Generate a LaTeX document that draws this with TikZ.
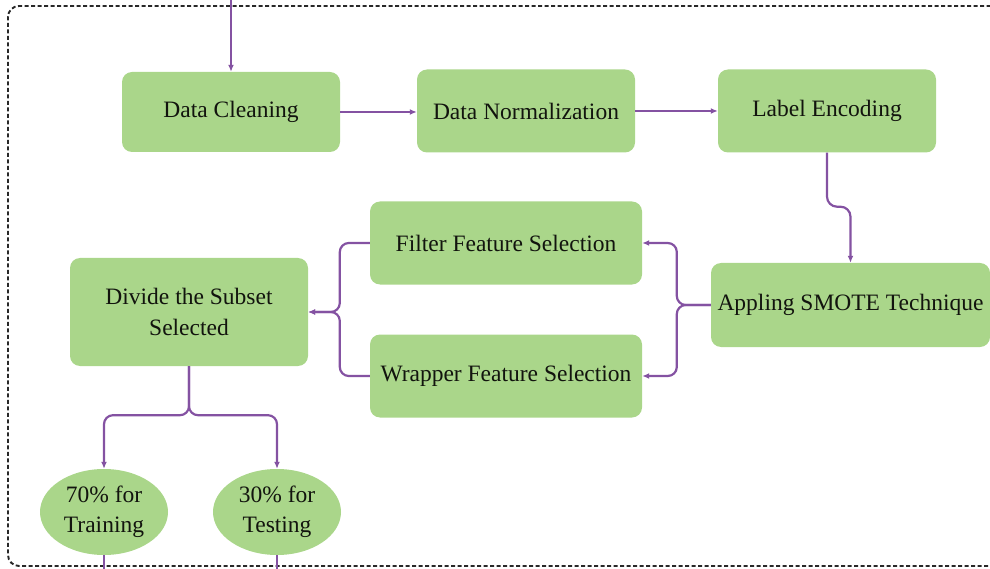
\documentclass[tikz,border=0pt]{standalone}
\usepackage{fontspec}
\setmainfont{Liberation Serif}
\usetikzlibrary{shapes.geometric,arrows.meta}
\definecolor{boxgreen}{RGB}{170,214,138}
\definecolor{flow}{RGB}{132,82,162}
\definecolor{ink}{RGB}{18,20,14}
\definecolor{frame}{RGB}{40,40,40}

\begin{document}
\begin{tikzpicture}[x=1pt,y=-1pt,
  card/.style={fill=boxgreen, draw=none, rounded corners=10pt, text=ink,
    align=center, inner sep=2pt, font=\fontsize{23.5}{31}\selectfont},
  oval/.style={ellipse, fill=boxgreen, draw=none, text=ink, align=center,
    inner sep=0pt, minimum width=128pt, minimum height=86pt,
    font=\fontsize{23.5}{30}\selectfont},
  link/.style={draw=flow, line width=2.2pt, -{Latex[length=7pt,width=6pt]}},
  tail/.style={draw=flow, line width=2.2pt},
  border/.style={draw=frame, line width=1.9pt, dash pattern=on 4pt off 2.5pt,
    rounded corners=11pt}]

\useasboundingbox (0,0) rectangle (990,569);
\clip (0,0) rectangle (990,569);

% dashed frame of the pre-processing stage
\draw[border] (1010,6) -- (8,6) -- (8,566) -- (1010,566);

% process steps
\node[card, minimum width=218pt, minimum height=80pt] (clean) at (231,112) {Data Cleaning};
\node[card, minimum width=218pt, minimum height=83pt] (norm) at (526,111) {Data Normalization};
\node[card, minimum width=218pt, minimum height=83pt] (enc) at (827,111) {Label Encoding};
\node[card, minimum width=272pt, minimum height=83pt] (filter) at (506,243) {Filter Feature Selection};
\node[card, minimum width=272pt, minimum height=83pt] (wrap) at (506,376) {Wrapper Feature Selection};
\node[card, minimum width=279pt, minimum height=84pt, inner sep=0pt] (smote) at (850.5,305) {Appling SMOTE Technique};
\node[card, minimum width=238pt, minimum height=108pt] (divide) at (189,312) {Divide the Subset\\Selected};
\node[oval] (train) at (104,512) {70\% for\\Training};
\node[oval] (test) at (277,512) {30\% for\\Testing};

% connectors
\coordinate (entry) at (231,-5);
\coordinate (trainout) at (104,580);
\coordinate (testout) at (277,580);

\draw[link] (entry) -- (clean.north);
\draw[link] (clean.east) -- (clean.east -| norm.west);
\draw[link] (norm.east) -- (norm.east -| enc.west);
\draw[link, rounded corners=10pt] (enc.south) -- ++(0,54) -| (smote.north);

\draw[link, rounded corners=9pt] (smote.west) -- ++(-34,0) |- (filter.east);
\draw[link, rounded corners=9pt] (smote.west) -- ++(-34,0) |- (wrap.east);

\draw[link, rounded corners=9pt] (filter.west) -- ++(-30,0) |- (divide.east);
\draw[link, rounded corners=9pt] (wrap.west) -- ++(-30,0) |- (divide.east);

\draw[link, rounded corners=9pt] (divide.south) -- ++(0,49) -| (train.north);
\draw[link, rounded corners=9pt] (divide.south) -- ++(0,49) -| (test.north);

\draw[tail] (train.south) -- (trainout);
\draw[tail] (test.south) -- (testout);
\end{tikzpicture}
\end{document}
